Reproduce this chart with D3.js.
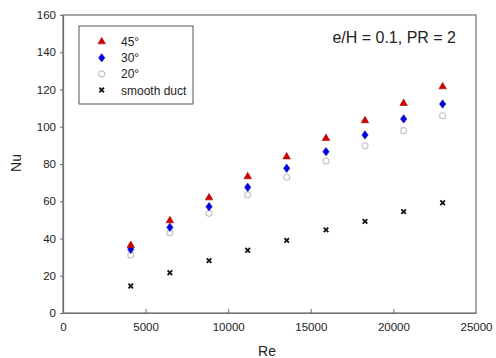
<!DOCTYPE html>
<html>
<head>
<meta charset="utf-8">
<script src="https://d3js.org/d3.v7.min.js"></script>
<style>
body { margin: 0; background: #fff; }
text { font-family: Arial, "Liberation Sans", sans-serif; fill: #222; }
</style>
</head>
<body>
<div id="chart"></div>
<script>
// data
var re = [4100, 6470, 8840, 11180, 13540, 15920, 18280, 20620, 22980];
var nu45 = [36.3, 49.6, 61.9, 73.2, 83.9, 93.8, 103.3, 112.6, 121.5];
var nu30 = [34.2, 46.0, 57.1, 67.5, 77.7, 86.6, 95.6, 104.2, 112.2];
var nu20 = [31.1, 43.1, 53.5, 63.4, 72.9, 81.6, 89.8, 97.9, 105.9];
var smooth = [14.5, 21.6, 28.1, 33.7, 39.0, 44.6, 49.2, 54.4, 59.2];
var xTicks = [0, 5000, 10000, 15000, 20000, 25000];
var yTicks = [0, 20, 40, 60, 80, 100, 120, 140, 160];
var seriesNames = ["45°", "30°", "20°", "smooth duct"];

var width = 496, height = 358;
var margin = {top: 15, right: 20, bottom: 45, left: 63};
var w = width - margin.left - margin.right,
    h = height - margin.top - margin.bottom;

var svg = d3.select("#chart").append("svg")
  .attr("width", width).attr("height", height);
var g = svg.append("g").attr("transform", "translate(" + margin.left + "," + margin.top + ")");

var x = d3.scaleLinear().domain([0, 25000]).range([0, w]);
var y = d3.scaleLinear().domain([0, 160]).range([h, 0]);

var axisColor = "#707070";

// frame
g.append("rect").attr("width", w).attr("height", h)
  .attr("fill", "none").attr("stroke", axisColor).attr("stroke-width", 1.2);

// x axis, ticks inside
var xa = g.append("g").attr("transform", "translate(0," + h + ")")
  .call(d3.axisBottom(x).tickValues(xTicks).tickSizeInner(-4).tickSizeOuter(0).tickPadding(10).tickFormat(d3.format("d")));
// y axis, ticks outside
var ya = g.append("g")
  .call(d3.axisLeft(y).tickValues(yTicks).tickSizeInner(3).tickSizeOuter(0).tickPadding(4));
[xa, ya].forEach(function(a) {
  a.select(".domain").attr("stroke", axisColor).attr("stroke-width", 1.2);
  a.selectAll(".tick line").attr("stroke", axisColor);
  a.selectAll("text").style("font-size", "11.5px").attr("fill", "#3a3a3a")
    .style("font-family", "Arial, 'Liberation Sans', sans-serif");
});
xa.selectAll(".tick").filter(function(d) { return d === 0 || d === 25000; }).select("line").remove();

// axis titles
svg.append("text").attr("x", 267).attr("y", 356).attr("text-anchor", "middle")
  .style("font-size", "14px").text("Re");
svg.append("text").attr("transform", "translate(21,163) rotate(-90)").attr("text-anchor", "middle")
  .style("font-size", "14px").text("Nu");

// annotation
svg.append("text").attr("x", 456).attr("y", 43).attr("text-anchor", "end")
  .style("font-size", "16px").text("e/H = 0.1, PR = 2");

// marker drawers
function tri(sel) {
  sel.append("path").attr("d", d3.symbol().type(d3.symbolTriangle).size(24))
    .attr("fill", "#d40000").attr("stroke", "#a00000").attr("stroke-width", 0.6);
}
function dia(sel) {
  sel.append("path").attr("d", d3.symbol().type(d3.symbolDiamond).size(20))
    .attr("transform", "scale(1.3,1)")
    .attr("fill", "#0000e6").attr("stroke", "#0000b0").attr("stroke-width", 0.5);
}
function circ(sel) {
  sel.append("circle").attr("r", 3).attr("fill", "none")
    .attr("stroke", "#c4c4c4").attr("stroke-width", 1.1);
}
function cross(sel) {
  sel.append("path").attr("d", "M-2.3,-2.3L2.3,2.3M-2.3,2.3L2.3,-2.3")
    .attr("stroke", "#111").attr("stroke-width", 1.8);
}
var drawers = [tri, dia, circ, cross];
var allSeries = [nu45, nu30, nu20, smooth];

// draw in back-to-front order (circles behind, triangles front)
[3, 2, 1, 0].forEach(function(s) {
  g.append("g").selectAll("g")
    .data(re.map(function(r, i) { return [r, allSeries[s][i]]; }))
    .enter().append("g")
    .attr("transform", function(d) { return "translate(" + x(d[0]) + "," + y(d[1]) + ")"; })
    .each(function() { drawers[s](d3.select(this)); });
});

// legend
var lg = svg.append("g").attr("transform", "translate(79,26)");
lg.append("rect").attr("width", 114).attr("height", 78)
  .attr("fill", "#fff").attr("stroke", "#555").attr("stroke-width", 1);
seriesNames.forEach(function(name, i) {
  var row = lg.append("g").attr("transform", "translate(0," + (15.7 + i * 16.1) + ")");
  var m = row.append("g").attr("transform", "translate(22.7,0)");
  drawers[i](m);
  row.append("text").attr("x", 42).attr("y", 4.5).style("font-size", "12px").attr("fill", "#333").text(name);
});
</script>
</body>
</html>
